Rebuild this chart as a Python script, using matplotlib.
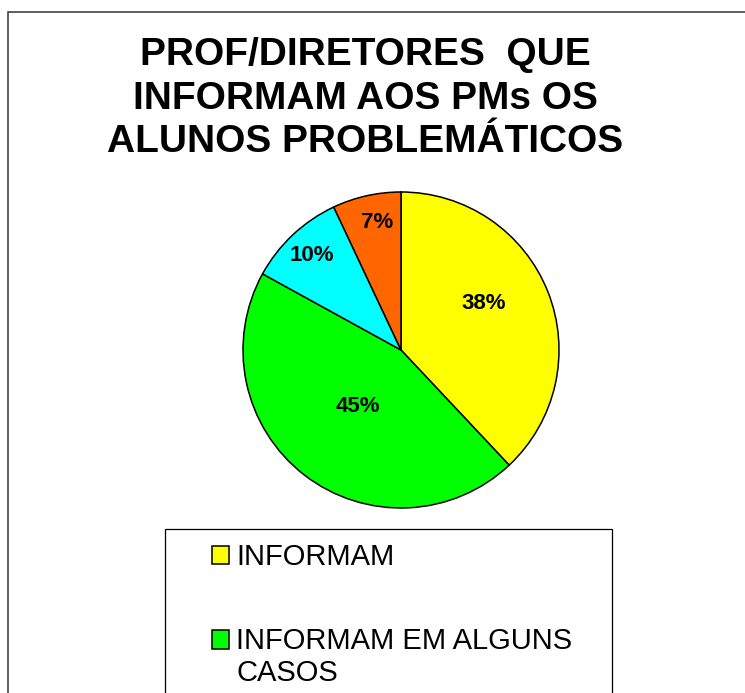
import numpy as np
import matplotlib.pyplot as plt
from matplotlib.patches import Rectangle
from matplotlib.legend_handler import HandlerPatch

# dados
categorias = ['INFORMAM', 'INFORMAM EM ALGUNS\nCASOS', 'NÃO INFORMAM', 'NÃO RESPONDERAM']
valores = [38, 45, 10, 7]
cores = ['#FFFF00', '#00FF00', '#00FFFF', '#FF6600']
titulo = 'PROF/DIRETORES  QUE\nINFORMAM AOS PMs OS\nALUNOS PROBLEMÁTICOS'

W, H = 745, 693
fig = plt.figure(figsize=(W / 100, H / 100), dpi=100)

# moldura externa (cortada à direita e embaixo)
fig.patches.append(Rectangle((8 / W, -0.1), 1.2, 1 - 12 / H + 0.1, transform=fig.transFigure,
                             fill=False, edgecolor='#333333', lw=1.1))

fig.text(365 / W, 1 - 37 / H, titulo, ha='center', va='top', fontsize=28, fontweight='bold',
         family='Liberation Sans', linespacing=1.27)

cx, cy, r = 401, 350, 158
ax = fig.add_axes([(cx - r) / W, 1 - (cy + r) / H, 2 * r / W, 2 * r / H])
wedges, _ = ax.pie(valores, colors=cores, startangle=90, counterclock=False,
                   wedgeprops=dict(edgecolor='black', linewidth=1.1))
ax.set_xlim(-1, 1)
ax.set_ylim(-1, 1)
ax.axis('off')

# rótulos de porcentagem
dist = [0.6, 0.45, 0.82, 0.82]
desloc = [8, 0, 0, -2]
for w, v, d, a in zip(wedges, valores, dist, desloc):
    ang = np.deg2rad((w.theta1 + w.theta2) / 2 + a)
    ax.text(d * np.cos(ang), d * np.sin(ang), f'{v}%', ha='center', va='center',
            fontsize=16, fontweight='bold', family='Liberation Sans')

# legenda (só as duas primeiras entradas cabem na imagem; o resto fica abaixo do corte)
fig.patches.append(Rectangle((165 / W, -0.1), (612 - 165) / W, 1 - 529 / H + 0.1,
                             transform=fig.transFigure, fill=False, edgecolor='black', lw=0.9))


def quadrado(n):
    def f(legend, orig_handle, xdescent, ydescent, width, height, fontsize):
        return Rectangle((-xdescent, -ydescent + n * 13.3), width, height)
    return f


hmap = {w: HandlerPatch(patch_func=quadrado(c.count('\n'))) for w, c in zip(wedges, categorias)}
leg = fig.legend(wedges[:2], categorias[:2], loc='upper left', bbox_to_anchor=(212 / W, 1 - 543 / H),
                 frameon=False, borderpad=0, borderaxespad=0, handler_map=hmap,
                 prop=dict(family='Liberation Sans', size=21), handlelength=0.58, handleheight=0.58,
                 handletextpad=0.25, labelspacing=1.92)
for t in leg.get_texts():
    t.set_linespacing(1.2)

fig.savefig('out.png', dpi=100)
